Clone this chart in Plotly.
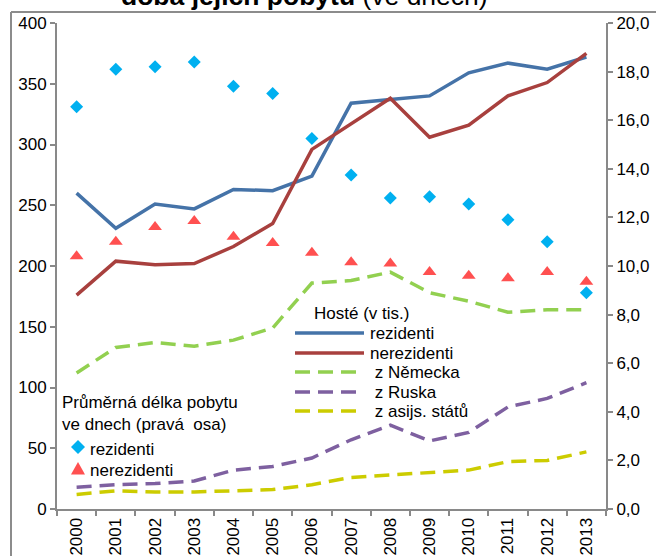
import plotly.graph_objects as go

# data
roky = ["2000", "2001", "2002", "2003", "2004", "2005", "2006",
        "2007", "2008", "2009", "2010", "2011", "2012", "2013"]

# hoste v tis. (leva osa)
hoste_rezidenti = [260, 231, 251, 247, 263, 262, 274, 334, 337, 340, 359, 367, 362, 372]
hoste_nerezidenti = [176, 204, 201, 202, 216, 235, 296, 317, 338, 306, 316, 340, 351, 375]
z_nemecka = [112, 133, 137, 134, 139, 149, 186, 188, 195, 178, 171, 162, 164, 164]
z_ruska = [18, 20, 21, 23, 32, 35, 42, 57, 69, 56, 63, 84, 91, 104]
z_asie = [12, 15, 14, 14, 15, 16, 20, 26, 28, 30, 32, 39, 40, 47]

# prumerna delka pobytu ve dnech (prava osa)
delka_rezidenti = [16.55, 18.1, 18.2, 18.4, 17.4, 17.1, 15.25, 13.75, 12.8, 12.85, 12.55, 11.9, 11.0, 8.9]
delka_nerezidenti = [10.4, 11.0, 11.6, 11.85, 11.2, 10.95, 10.55, 10.15, 10.1, 9.75, 9.6, 9.5, 9.75, 9.35]

FONT = "Arial, Liberation Sans, sans-serif"
GRAY = "#898989"

W, H = 656, 556
L, R, T, B = 57, 50, 23, 47
PW, PH = W - L - R, H - T - B


def px_x(px):
    return (px - L) / PW


def px_y(py):
    return (H - B - py) / PH


fig = go.Figure()

lines = [
    (hoste_rezidenti, "rezidenti", "#4573A8", "solid"),
    (hoste_nerezidenti, "nerezidenti", "#A8403E", "solid"),
    (z_nemecka, " z Německa", "#92D050", "15px,8px"),
    (z_ruska, " z Ruska", "#7E60A0", "15px,8px"),
    (z_asie, " z asijs. států", "#CCCC00", "15px,8px"),
]
for vals, name, color, dash in lines:
    fig.add_trace(go.Scatter(
        x=roky, y=vals, name=name, mode="lines",
        line=dict(color=color, width=3.5, dash=dash),
        showlegend=False, yaxis="y"
    ))

fig.add_trace(go.Scatter(
    x=roky, y=delka_rezidenti, name="rezidenti", mode="markers",
    marker=dict(symbol="diamond", size=10, color="#00B0F0"),
    showlegend=False, yaxis="y2"
))
fig.add_trace(go.Scatter(
    x=roky, y=delka_nerezidenti, name="nerezidenti", mode="markers",
    marker=dict(symbol="triangle-up", size=12, color="#FF5050"),
    showlegend=False, yaxis="y2"
))

shapes = []
annotations = []

# outer chart frame: only its left and top edges are inside the picture
shapes.append(dict(type="line", xref="paper", yref="paper",
                   x0=px_x(11), x1=px_x(11), y0=px_y(12), y1=px_y(556),
                   line=dict(color="#8C8C8C", width=2), layer="below"))
shapes.append(dict(type="line", xref="paper", yref="paper",
                   x0=px_x(11), x1=px_x(656), y0=px_y(12), y1=px_y(12),
                   line=dict(color="#8C8C8C", width=2), layer="below"))

# title (cut at the top in the reference)
annotations.append(dict(xref="paper", yref="paper", x=px_x(304), y=px_y(13),
                        xanchor="center", yanchor="bottom", showarrow=False,
                        text="<b>doba jejich pobytu</b> (ve dnech)",
                        font=dict(size=26.5, family=FONT, color="black")))

# legend 1 - hoste
annotations.append(dict(xref="paper", yref="paper", x=px_x(312), y=px_y(313),
                        xanchor="left", yanchor="middle", showarrow=False,
                        text="Hosté (v tis.)", font=dict(size=17, family=FONT, color="black")))
leg_y = [333, 353, 372, 392, 411]
for (vals, name, color, dash), yy in zip(lines, leg_y):
    shapes.append(dict(type="line", xref="paper", yref="paper",
                       x0=px_x(295), x1=px_x(364), y0=px_y(yy), y1=px_y(yy),
                       line=dict(color=color, width=3.5, dash=dash)))
    annotations.append(dict(xref="paper", yref="paper", x=px_x(368), y=px_y(yy),
                            xanchor="left", yanchor="middle", showarrow=False,
                            text=name, font=dict(size=17, family=FONT, color="black")))

# legend 2 - prumerna delka pobytu
annotations.append(dict(xref="paper", yref="paper", x=px_x(60), y=px_y(413),
                        xanchor="left", yanchor="middle", showarrow=False, align="left",
                        text="Průměrná délka pobytu<br>ve dnech (pravá  osa)",
                        font=dict(size=17, family=FONT, color="black")))


def diamond(cx, cy, r):
    pts = [(cx, cy - r), (cx + r, cy), (cx, cy + r), (cx - r, cy)]
    return "M " + " L ".join(f"{px_x(a):.5f},{px_y(b):.5f}" for a, b in pts) + " Z"


def triangle(cx, cy, r):
    pts = [(cx, cy - r), (cx + r, cy + r * 0.8), (cx - r, cy + r * 0.8)]
    return "M " + " L ".join(f"{px_x(a):.5f},{px_y(b):.5f}" for a, b in pts) + " Z"


shapes.append(dict(type="path", xref="paper", yref="paper", path=diamond(78, 447, 7),
                   fillcolor="#00B0F0", line=dict(width=0)))
shapes.append(dict(type="path", xref="paper", yref="paper", path=triangle(78, 469, 7),
                   fillcolor="#FF5050", line=dict(width=0)))
annotations.append(dict(xref="paper", yref="paper", x=px_x(88), y=px_y(449),
                        xanchor="left", yanchor="middle", showarrow=False,
                        text="rezidenti", font=dict(size=17, family=FONT, color="black")))
annotations.append(dict(xref="paper", yref="paper", x=px_x(88), y=px_y(470),
                        xanchor="left", yanchor="middle", showarrow=False,
                        text="nerezidenti", font=dict(size=17, family=FONT, color="black")))

axis_style = dict(showline=True, linecolor=GRAY, linewidth=2, ticks="outside",
                  ticklen=5, tickcolor=GRAY, tickwidth=1.5, showgrid=False, zeroline=False,
                  automargin=False,
                  tickfont=dict(size=17, family=FONT, color="black"))

fig.update_layout(
    width=W, height=H,
    margin=dict(l=L, r=R, t=T, b=B),
    paper_bgcolor="white", plot_bgcolor="white",
    separators=", ",
    showlegend=False,
    font=dict(family=FONT, size=17, color="black"),
    xaxis=dict(type="category", range=[-0.5, 13.5], tickangle=-90,
               tickson="boundaries", **axis_style),
    yaxis=dict(range=[0, 400], dtick=50, **axis_style),
    yaxis2=dict(range=[0, 20], dtick=2, tickformat=".1f", overlaying="y",
                side="right", **axis_style),
    shapes=shapes,
    annotations=annotations,
)

fig.write_html("out.html", config={"displayModeBar": False},
               post_script="document.body.style.margin = '0';")
